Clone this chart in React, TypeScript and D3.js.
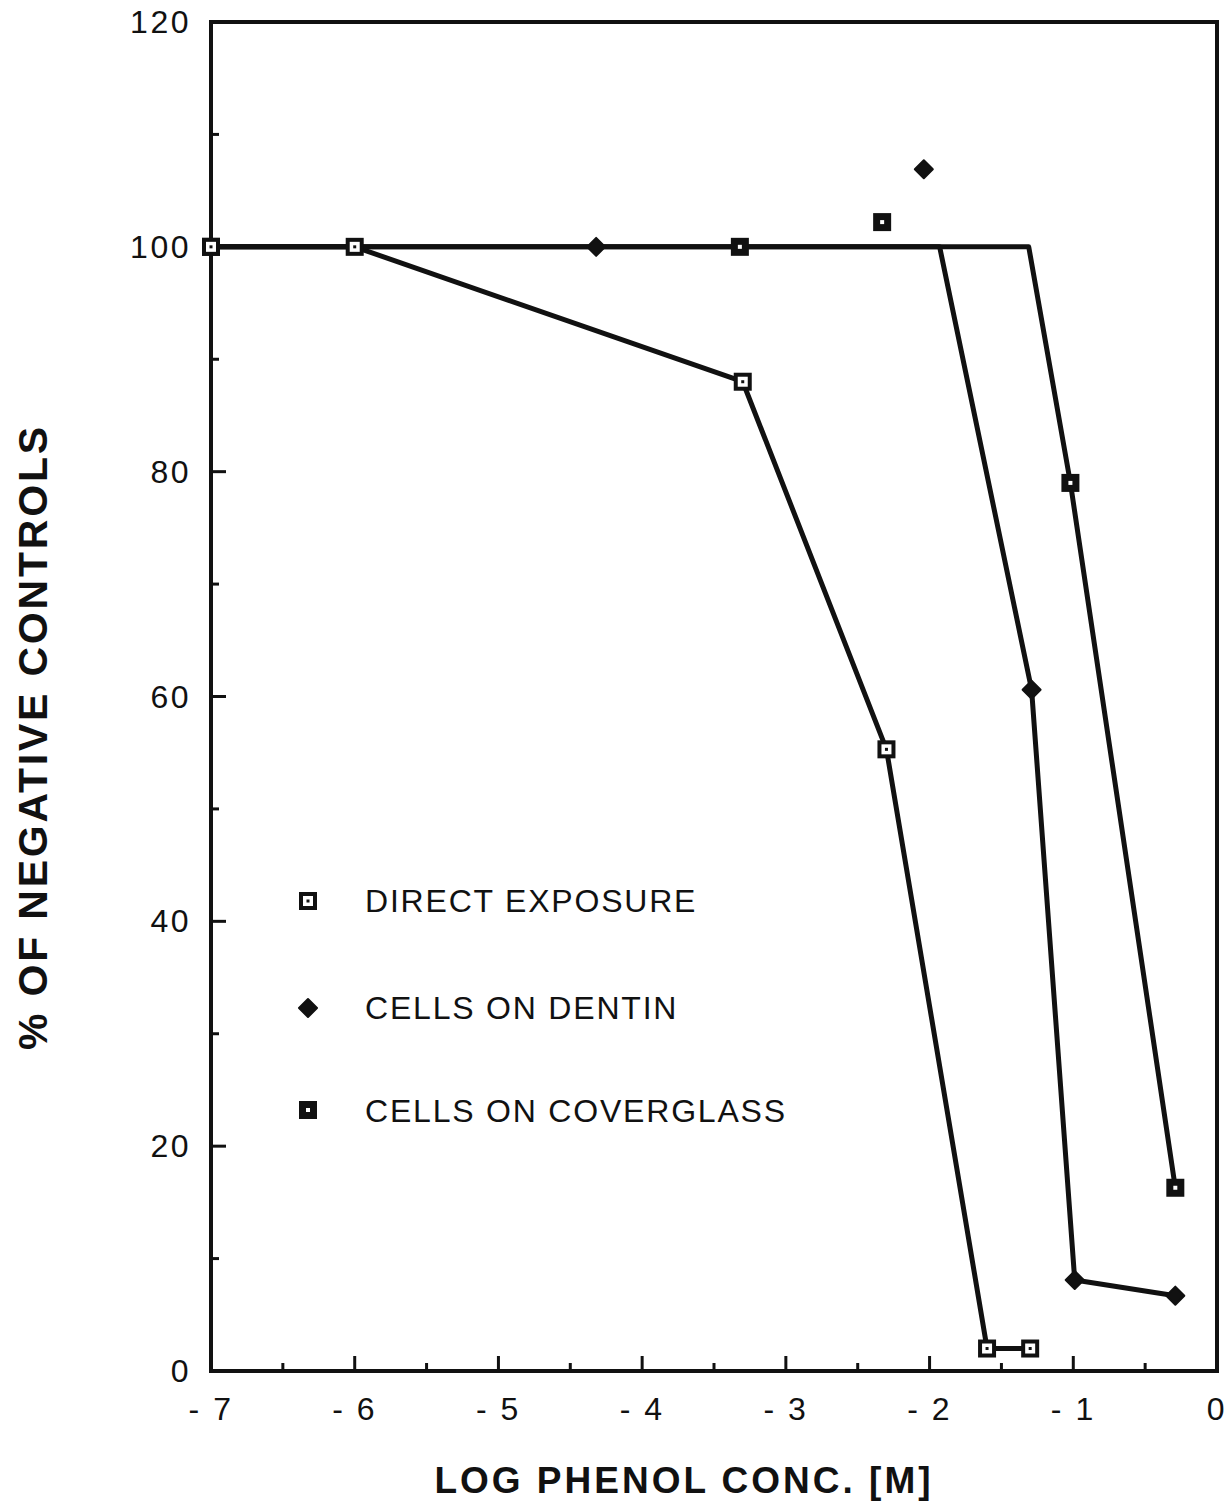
import React from "react";
import * as d3 from "d3";

// ---- Data ----
const directX = [-7, -6, -3.3, -2.3, -1.6, -1.3];
const directY = [100, 100, 88, 55.3, 2, 2];

const dentinX = [-4.32, -2.04, -1.29, -0.99, -0.29];
const dentinY = [100, 106.9, 60.6, 8.1, 6.7];
// fitted line for dentin (vertices)
const dentinLineX = [-7, -1.93, -1.29, -0.99, -0.29];
const dentinLineY = [100, 100, 60.6, 8.1, 6.7];

const coverX = [-7, -3.32, -2.33, -1.02, -0.29];
const coverY = [100, 100, 102.2, 79, 16.3];
// fitted line for coverglass (vertices)
const coverLineX = [-7, -3.32, -1.31, -1.02, -0.29];
const coverLineY = [100, 100, 100, 79, 16.3];

const xMajorTicks = [-7, -6, -5, -4, -3, -2, -1, 0];
const xMinorTicks = [-6.5, -5.5, -4.5, -3.5, -2.5, -1.5, -0.5];
const yMajorTicks = [0, 20, 40, 60, 80, 100, 120];
const yMinorTicks = [10, 30, 50, 70, 90, 110];

const legendLabels = ["DIRECT EXPOSURE", "CELLS ON DENTIN", "CELLS ON COVERGLASS"];
const xTitle = "LOG PHENOL CONC. [M]";
const yTitle = "% OF NEGATIVE CONTROLS";

const FONT = "'Liberation Sans', Arial, Helvetica, sans-serif";

function OpenSquare({ x, y }: { x: number; y: number }) {
  return (
    <g transform={`translate(${x},${y})`}>
      <rect x={-7} y={-7} width={14} height={14} fill="#fff" stroke="#111" strokeWidth={4} />
      <rect x={-1.5} y={-1.5} width={3} height={3} fill="#111" />
    </g>
  );
}
function FilledSquare({ x, y }: { x: number; y: number }) {
  return (
    <g transform={`translate(${x},${y})`}>
      <rect x={-9} y={-9} width={18} height={18} fill="#111" />
      <rect x={-2} y={-2} width={4} height={4} fill="#fff" />
    </g>
  );
}
function Diamond({ x, y }: { x: number; y: number }) {
  return (
    <g transform={`translate(${x},${y})`}>
      <path d="M0,-9 L9,0 L0,9 L-9,0 Z" fill="#111" stroke="#111" strokeWidth={2} strokeLinejoin="round" />
    </g>
  );
}

export default function App() {
  const W = 1228;
  const H = 1512;
  const x = d3.scaleLinear().domain([-7, 0]).range([211, 1217]);
  const y = d3.scaleLinear().domain([0, 120]).range([1371, 22]);

  const line = d3
    .line<[number, number]>()
    .x((d) => x(d[0]))
    .y((d) => y(d[1]));

  const zip = (a: number[], b: number[]) => a.map((v, i) => [v, b[i]] as [number, number]);

  const fmtX = (d: number) => (d < 0 ? `- ${-d}` : `${d}`);

  const ink = "#111";

  return (
    <svg
      width={W}
      height={H}
      style={{ position: "absolute", left: 0, top: 0, background: "#fff" }}
      fontFamily={FONT}
    >
      <rect x={0} y={0} width={W} height={H} fill="#fff" />

      {/* frame */}
      <rect
        x={x(-7)}
        y={y(120)}
        width={x(0) - x(-7)}
        height={y(0) - y(120)}
        fill="none"
        stroke={ink}
        strokeWidth={4}
      />

      {/* x ticks (inward) */}
      {xMajorTicks.slice(1, -1).map((t) => (
        <line key={"xM" + t} x1={x(t)} x2={x(t)} y1={y(0)} y2={y(0) - 15} stroke={ink} strokeWidth={3} />
      ))}
      {xMinorTicks.map((t) => (
        <line key={"xm" + t} x1={x(t)} x2={x(t)} y1={y(0)} y2={y(0) - 8} stroke={ink} strokeWidth={3} />
      ))}
      {xMajorTicks.map((t) => (
        <text key={"xl" + t} x={x(t)} y={1420} fontSize={32} letterSpacing={2.5} textAnchor="middle" fill={ink}>
          {fmtX(t)}
        </text>
      ))}

      {/* y ticks (inward) */}
      {yMajorTicks.slice(1, -1).map((t) => (
        <line key={"yM" + t} x1={x(-7)} x2={x(-7) + 15} y1={y(t)} y2={y(t)} stroke={ink} strokeWidth={3} />
      ))}
      {yMinorTicks.map((t) => (
        <line key={"ym" + t} x1={x(-7)} x2={x(-7) + 8} y1={y(t)} y2={y(t)} stroke={ink} strokeWidth={3} />
      ))}
      {yMajorTicks.map((t) => (
        <text key={"yl" + t} x={191} y={y(t) + 11} fontSize={32} letterSpacing={2.5} textAnchor="end" fill={ink}>
          {t}
        </text>
      ))}

      {/* lines */}
      <path d={line(zip(directX, directY)) || ""} fill="none" stroke={ink} strokeWidth={5} strokeLinejoin="round" />
      <path d={line(zip(dentinLineX, dentinLineY)) || ""} fill="none" stroke={ink} strokeWidth={5} strokeLinejoin="round" />
      <path d={line(zip(coverLineX, coverLineY)) || ""} fill="none" stroke={ink} strokeWidth={5} strokeLinejoin="round" />

      {/* markers */}
      {dentinX.map((v, i) => (
        <Diamond key={"dn" + i} x={x(v)} y={y(dentinY[i])} />
      ))}
      {coverX.map((v, i) => (
        <FilledSquare key={"cv" + i} x={x(v)} y={y(coverY[i])} />
      ))}
      {directX.map((v, i) => (
        <OpenSquare key={"de" + i} x={x(v)} y={y(directY[i])} />
      ))}

      {/* legend */}
      <OpenSquare x={308} y={901} />
      <Diamond x={308} y={1008} />
      <FilledSquare x={308} y={1110} />
      {legendLabels.map((l, i) => (
        <text key={l} x={365} y={[912, 1019, 1122][i]} fontSize={32} letterSpacing={1.8} fill={ink}>
          {l}
        </text>
      ))}

      {/* axis titles */}
      <text x={684} y={1493} fontSize={37} letterSpacing={3} fontWeight="bold" textAnchor="middle" fill={ink}>
        {xTitle}
      </text>
      <text
        transform="translate(47,737) rotate(-90)"
        fontSize={41}
        letterSpacing={2.8}
        fontWeight="bold"
        textAnchor="middle"
        fill={ink}
      >
        {yTitle}
      </text>
    </svg>
  );
}
